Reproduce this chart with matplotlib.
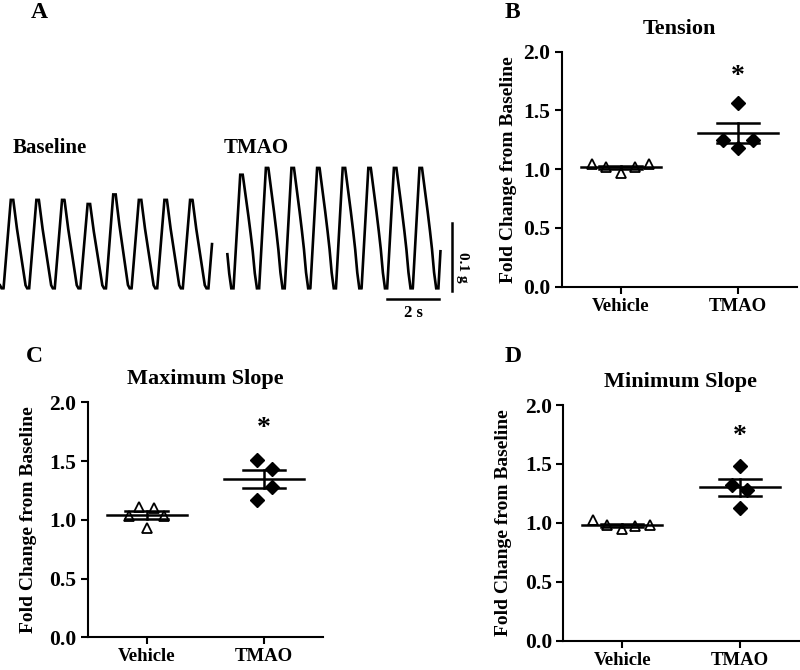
import numpy as np
import matplotlib
matplotlib.use("Agg")
import matplotlib.pyplot as plt

plt.rcParams['font.family'] = ['Liberation Serif', 'DejaVu Serif']
plt.rcParams['font.weight'] = 'bold'

# ---------------- data ----------------
groups = ["Vehicle", "TMAO"]

tension_vehicle = [1.04, 1.02, 0.97, 1.02, 1.04]
tension_tmao = [1.25, 1.56, 1.18, 1.25]
maxslope_vehicle = [1.03, 1.11, 0.93, 1.10, 1.03]
maxslope_tmao = [1.51, 1.43, 1.28, 1.17]
minslope_vehicle = [1.02, 0.98, 0.95, 0.97, 0.98]
minslope_tmao = [1.48, 1.32, 1.28, 1.13]

yticks = [0.0, 0.5, 1.0, 1.5, 2.0]
star_level = [1.79, 1.78, 1.73]

# contraction traces (panel A): one-beat template (phase -> relative level)
base_phase = [0.00, 0.08, 0.36, 0.46, 0.58, 0.72, 0.84, 0.93, 1.00]
base_level = [0.00, 0.00, 1.00, 1.00, 0.72, 0.45, 0.22, 0.04, 0.00]
tmao_phase = [0.00, 0.04, 0.30, 0.40, 0.53, 0.66, 0.78, 0.86, 0.95, 1.00]
tmao_level = [0.00, 0.00, 1.00, 1.00, 0.79, 0.57, 0.35, 0.15, 0.00, 0.00]
baseline_peaks_g = [0.130, 0.130, 0.130, 0.124, 0.138, 0.130, 0.130, 0.130]
tmao_peaks_g = [0.167, 0.177, 0.177, 0.177, 0.177, 0.177, 0.177, 0.177]
beat_period_s = 0.985

# ---------------- layout ----------------
W, H = 800, 670
fig = plt.figure(figsize=(W / 100, H / 100), dpi=100)

def fax(l, t, r, b):
    return fig.add_axes([l / W, 1 - b / H, (r - l) / W, (b - t) / H])

FS_TICK = 15.5
FS_LAB = 14
FS_TITLE = 16

def scatter_panel(ax, veh, tm, veh_jit, tm_jit, title, star_y, ylab_x):
    ax.plot(np.zeros(len(veh)) + np.array(veh_jit), veh, linestyle='none',
            marker='^', ms=6.5, mfc='white', mec='black', mew=1.3, zorder=3)
    ax.plot(np.ones(len(tm)) + np.array(tm_jit), tm, linestyle='none',
            marker='D', ms=7.5, mfc='black', mec='black', zorder=3)
    for i, vals in enumerate([veh, tm]):
        v = np.array(vals)
        m = v.mean()
        s = v.std(ddof=1) / np.sqrt(len(v))
        ax.plot([i - 0.34, i + 0.34], [m, m], color='black', lw=1.8, zorder=4)
        ax.plot([i - 0.18, i + 0.18], [m + s, m + s], color='black', lw=1.8, zorder=4)
        ax.plot([i - 0.18, i + 0.18], [m - s, m - s], color='black', lw=1.8, zorder=4)
        ax.plot([i, i], [m - s, m + s], color='black', lw=1.8, zorder=4)
    ax.text(1, star_y, "*", ha='center', va='center', fontsize=20, fontweight='bold')
    ax.set_xlim(-0.5, 1.5)
    ax.set_ylim(0, 2.0)
    ax.set_xticks([0, 1])
    ax.set_xticklabels(groups, fontsize=13.5, fontweight='bold')
    ax.set_yticks(yticks)
    ax.set_yticklabels([f"{v:.1f}" for v in yticks], fontsize=FS_TICK, fontweight='bold')
    for sp in ['top', 'right']:
        ax.spines[sp].set_visible(False)
    for sp in ['left', 'bottom']:
        ax.spines[sp].set_linewidth(1.5)
    ax.tick_params(axis='both', direction='out', length=5, width=1.5, pad=3)
    ax.set_title(title, fontsize=FS_TITLE, fontweight='bold', pad=13)
    ax.set_ylabel("Fold Change from Baseline", fontsize=FS_LAB, fontweight='bold')
    ax.yaxis.set_label_coords(ylab_x, 0.5)

axB = fax(561.7, 51.7, 797, 286.7)
axC = fax(87.7, 402.3, 323, 637.3)
axD = fax(563.3, 405, 798.6, 640.7)

scatter_panel(axB, tension_vehicle, tension_tmao,
              [-0.24, -0.12, 0, 0.12, 0.24], [-0.13, 0, 0, 0.13],
              "Tension", star_level[0], -0.19)
scatter_panel(axC, maxslope_vehicle, maxslope_tmao,
              [-0.15, -0.06, 0, 0.06, 0.15], [-0.06, 0.07, 0.07, -0.06],
              "Maximum Slope", star_level[1], -0.215)
scatter_panel(axD, minslope_vehicle, minslope_tmao,
              [-0.25, -0.13, 0, 0.11, 0.24], [0, -0.07, 0.06, 0],
              "Minimum Slope", star_level[2], -0.218)

# ---------------- panel A traces ----------------
PX_PER_S = 26.0
PX_PER_G = 680.0
axA = fax(0, 160, 470, 330)
axA.set_xlim(0, 470 / PX_PER_S)
axA.set_ylim(-(330 - 288.3) / PX_PER_G, (288.3 - 160) / PX_PER_G)
axA.axis('off')

def build_trace(phase, level, peaks, start_s, lead, tail):
    n = len(peaks)
    u = np.linspace(-lead, n + tail, 3000)
    idx = np.floor(u).astype(int)
    ph = u - idx
    amp = np.array(peaks)[np.clip(idx, 0, n - 1)]
    y = np.interp(ph, phase, level) * amp
    return start_s + u * beat_period_s, y

tb, yb = build_trace(base_phase, base_level, baseline_peaks_g, 1.5 / PX_PER_S, 0.06, 0.22)
tt, yt = build_trace(tmao_phase, tmao_level, tmao_peaks_g, 232.5 / PX_PER_S, 0.2, 0.12)
axA.plot(tb, yb, color='black', lw=1.9, solid_joinstyle='miter')
axA.plot(tt, yt, color='black', lw=1.9, solid_joinstyle='miter')

# scale bars
axA.plot([387 / PX_PER_S, 387 / PX_PER_S + 2.0], [-0.0157, -0.0157], color='black', lw=1.8)
axA.plot([452 / PX_PER_S, 452 / PX_PER_S], [-0.0035, 0.0965], color='black', lw=1.8)
axA.text(387 / PX_PER_S + 1.0, -0.037, "2 s", ha='center', va='center', fontsize=12, fontweight='bold')
axA.text(462 / PX_PER_S, 0.031, "0.1 g", ha='center', va='center', rotation=-90,
         fontsize=11, fontweight='bold')

# labels
fig.text(12.7 / W, 1 - 148 / H, "Baseline", ha='left', va='center', fontsize=15, fontweight='bold')
fig.text(224 / W, 1 - 148 / H, "TMAO", ha='left', va='center', fontsize=15, fontweight='bold')
for lab, x, y in [("A", 39, 13), ("B", 512, 13), ("C", 34, 357), ("D", 513, 357)]:
    fig.text(x / W, 1 - y / H, lab, ha='center', va='center', fontsize=17, fontweight='bold')

fig.savefig("out.png", dpi=100)
